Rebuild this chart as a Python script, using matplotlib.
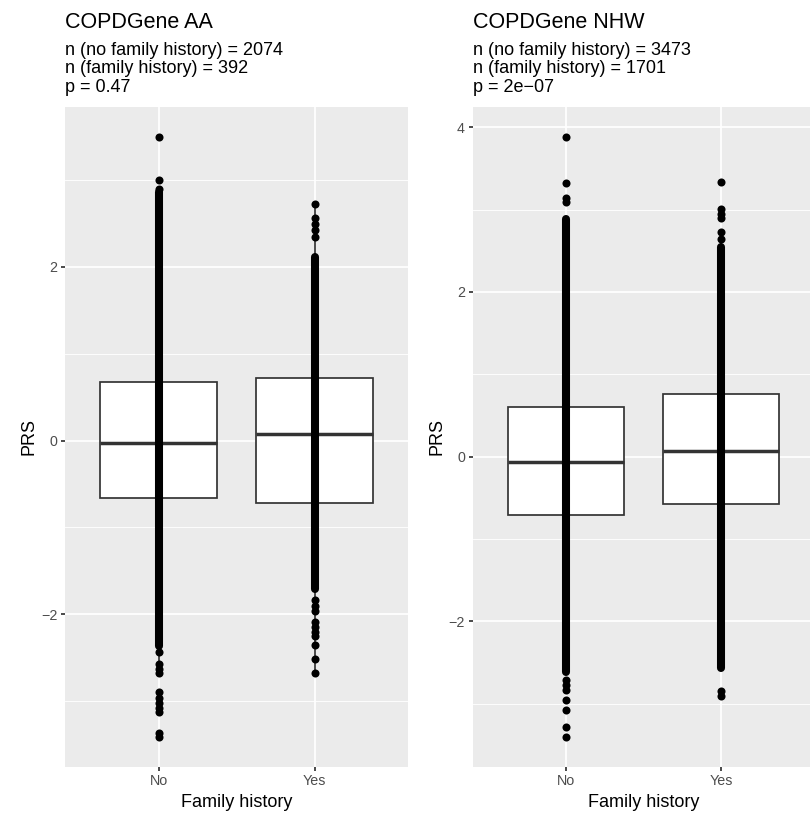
import matplotlib
matplotlib.use("Agg")
import matplotlib.pyplot as plt
import numpy as np

plt.rcParams['font.family'] = ['Liberation Sans', 'DejaVu Sans']

categories = ["No", "Yes"]

# panel titles / subtitles
titles = ["COPDGene AA", "COPDGene NHW"]
n_no = [2074, 3473]
n_yes = [392, 1701]
p_text = ["0.47", "2e\u221207"]

# box statistics [No, Yes] per panel: q1, median, q3, whisker low, whisker high
aa_q1 = [-0.66, -0.715]
aa_med = [-0.03, 0.08]
aa_q3 = [0.676, 0.72]
aa_wlo = [-2.63, -2.68]
aa_whi = [2.68, 2.73]

nhw_q1 = [-0.71, -0.57]
nhw_med = [-0.07, 0.07]
nhw_q3 = [0.60, 0.755]
nhw_wlo = [-2.61, -2.56]
nhw_whi = [2.56, 2.73]

# dense runs of overlapping points (low, high)
aa_dense = [(-2.36, 2.86), (-1.71, 2.12)]
nhw_dense = [(-2.61, 2.88), (-2.56, 2.55)]

# individually visible points
aa_no_pts = [3.50, 3.00, 2.90, -2.44, -2.57, -2.63, -2.68, -2.89, -2.96, -3.02,
             -3.08, -3.13, -3.37, -3.41]
aa_yes_pts = [2.73, 2.56, 2.49, 2.42, 2.35, -1.83, -1.90, -1.96, -2.09, -2.15,
              -2.20, -2.25, -2.35, -2.52, -2.68]
nhw_no_pts = [3.885, 3.32, 3.14, 3.09, -2.71, -2.77, -2.83, -2.96, -3.07, -3.28, -3.40]
nhw_yes_pts = [3.34, 3.01, 2.95, 2.90, 2.73, 2.64, -2.84, -2.91]

yticks_aa = [-2, 0, 2]
yticks_nhw = [-2, 0, 2, 4]

W, H = 810, 814
fig = plt.figure(figsize=(W / 100, H / 100), dpi=100)

PANEL_BG = "#EBEBEB"
MS = 5.8
LW = 1.25


def px(x0, y0, x1, y1):
    return [x0 / W, 1 - y1 / H, (x1 - x0) / W, (y1 - y0) / H]


def draw_panel(ax, q1, med, q3, wlo, whi, dense, pts_lists, yticks):
    ax.set_facecolor(PANEL_BG)
    for s in ax.spines.values():
        s.set_visible(False)
    ax.set_yticks(yticks)
    ax.set_yticklabels([str(t).replace('-', '\u2212') for t in yticks])
    minors = [yticks[0] - 1] + [t + 1 for t in yticks]
    ax.set_yticks(minors, minor=True)
    ax.set_xticks([1, 2])
    ax.set_xticklabels(categories)
    ax.grid(True, which='major', color='white', lw=LW)
    ax.grid(True, which='minor', axis='y', color='white', lw=LW / 2)
    ax.set_axisbelow(True)
    ax.tick_params(which='major', length=3.2, width=LW, color='#333333',
                   labelcolor='#4D4D4D', labelsize=10.3, pad=2.4)
    ax.tick_params(which='minor', length=0)
    stats = []
    for i in range(2):
        stats.append(dict(med=med[i], q1=q1[i], q3=q3[i], whislo=wlo[i],
                          whishi=whi[i], fliers=[]))
    ax.bxp(stats, positions=[1, 2], widths=0.75, patch_artist=True,
           showcaps=False, showfliers=False,
           boxprops=dict(facecolor='white', edgecolor='#333333', lw=LW),
           whiskerprops=dict(color='#333333', lw=LW),
           medianprops=dict(color='#333333', lw=2.5, solid_capstyle='butt'),
           manage_ticks=False, zorder=2)
    for i in range(2):
        ax.plot([i + 1, i + 1], list(dense[i]), color='black', lw=MS,
                solid_capstyle='round', zorder=3)
        ax.plot([i + 1] * len(pts_lists[i]), pts_lists[i], 'o', color='black',
                ms=MS, mew=0, zorder=3)
    allv = [v for pl in pts_lists for v in pl] + [d for pair in dense for d in pair]
    lo, hi = min(allv), max(allv)
    rng = hi - lo
    ax.set_ylim(lo - 0.05 * rng, hi + 0.05 * rng)
    ax.set_xlim(0.4, 2.6)
    ax.set_xlabel("Family history", fontsize=13, color='black', labelpad=4)
    ax.set_ylabel("PRS", fontsize=13, color='black', labelpad=2.5)


ax1 = fig.add_axes(px(65, 106.7, 408.3, 766.7))
draw_panel(ax1, aa_q1, aa_med, aa_q3, aa_wlo, aa_whi, aa_dense,
           [aa_no_pts, aa_yes_pts], yticks_aa)
ax2 = fig.add_axes(px(472.7, 106.7, 814, 766.7))
draw_panel(ax2, nhw_q1, nhw_med, nhw_q3, nhw_wlo, nhw_whi, nhw_dense,
           [nhw_no_pts, nhw_yes_pts], yticks_nhw)

for i, xl in enumerate([65, 472.7]):
    fig.text(xl / W, 1 - 28.3 / H, titles[i], fontsize=15.5, va='baseline', ha='left')
    lines = [f"n (no family history) = {n_no[i]}",
             f"n (family history) = {n_yes[i]}",
             f"p = {p_text[i]}"]
    for j, (ln, yb) in enumerate(zip(lines, [55, 73.3, 91.7])):
        fig.text(xl / W, 1 - yb / H, ln, fontsize=13, va='baseline', ha='left')

fig.savefig("out.png", dpi=100, facecolor='white')
